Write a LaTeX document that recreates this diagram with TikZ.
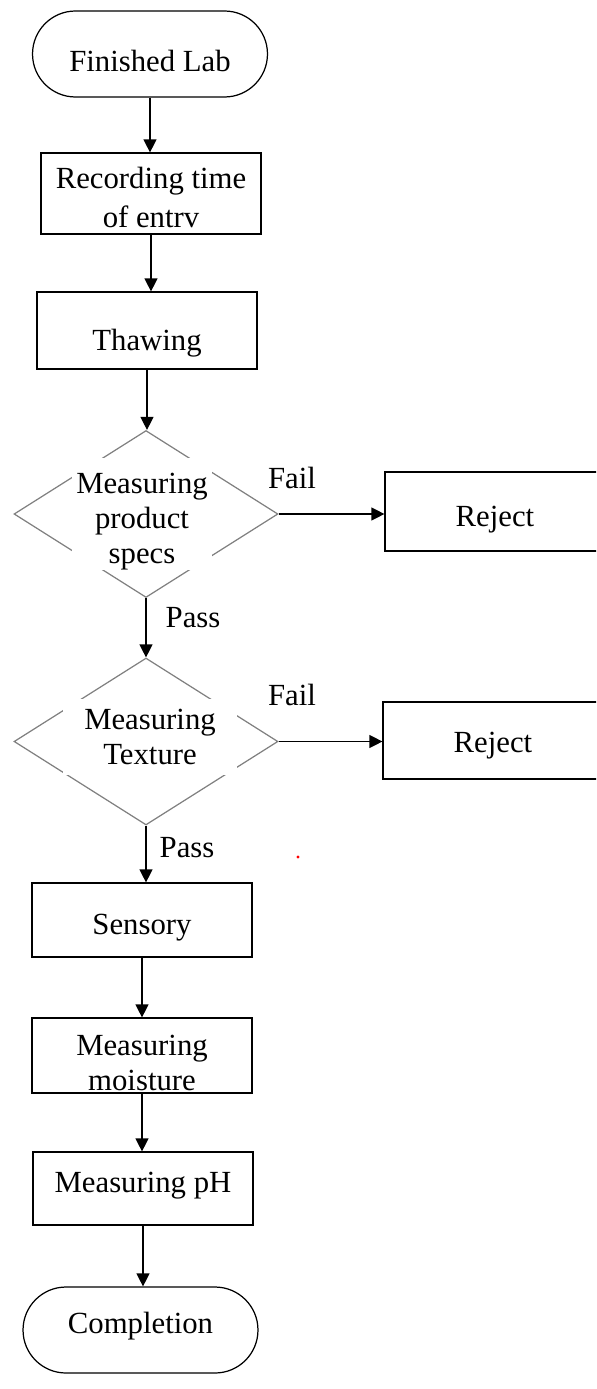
\documentclass[tikz,border=0pt]{standalone}
\usepackage{fontspec}
\setmainfont{Liberation Serif}
\usetikzlibrary{shapes.geometric,arrows.meta}
\newcommand{\lowtop}[1]{\rule{0pt}{#1}}
\begin{document}
\begin{tikzpicture}[x=0.02cm,y=-0.02cm,font=\fontsize{17.5}{20}\selectfont,
  box/.style={draw,line width=0.7pt,minimum width=4.4cm,align=center,inner sep=0pt},
  term/.style={draw,line width=0.7pt,rounded corners=0.86cm,minimum width=4.7cm,minimum height=1.72cm},
  dec/.style={draw=gray,line width=0.7pt,shape=diamond,minimum width=5.28cm,minimum height=3.34cm,inner sep=0pt},
  dectext/.style={fill=white,align=center,inner sep=0pt},
  sink/.style={execute at begin node={\rule{0pt}{#1}}},
  lift/.style={execute at end node={\rule[-#1]{0pt}{#1}}},
  arr/.style={line width=0.7pt,-{Triangle[width=0.26cm,length=0.26cm]}}]
\useasboundingbox (0,0) rectangle (596,1389);
\clip (0,0) rectangle (596,1389);
\node[term,sink=20pt] (start) at (150,54) {Finished Lab};
\node[box,minimum height=1.62cm,font=\fontsize{17.5}{22}\selectfont] (rec) at (151,193.5) {\lowtop{16.6pt}Recording time\\of entrv};
\node[box,minimum height=1.54cm,sink=27pt] (thaw) at (147,330.5) {Thawing};
\node[dec] (d1) at (146,514) {};
\node[dectext,minimum width=2.8cm,minimum height=2.24cm] (t1) at (142,514) {\lowtop{20pt}Measuring\\product\\specs};
\node[box,minimum height=1.58cm,sink=21pt] (rej1) at (495,511.5) {Reject};
\node[dec] (d2) at (146,741.5) {};
\node[dectext,minimum width=3.5cm,minimum height=1.52cm] (t2) at (150,737) {Measuring\\Texture};
\node[box,minimum height=1.54cm,sink=17.6pt] (rej2) at (493,740.5) {Reject};
\node[box,minimum height=1.48cm,sink=20pt] (sens) at (142,920) {Sensory};
\node[box,minimum height=1.5cm] (moist) at (142,1055.5) {\lowtop{20pt}Measuring\\moisture};
\node[box,minimum height=1.46cm,lift=7.2pt] (ph) at (143,1188.5) {Measuring pH};
\node[term,lift=8.4pt] (done) at (140.5,1330) {Completion};
\node (fail1) at (292,478) {Fail};
\node (fail2) at (292,695) {Fail};
\node (pass1) at (193,618) {Pass};
\node (pass2) at (187,848) {Pass};
\draw[arr] (start.south) -- (start.south |- rec.north);
\draw[arr] (rec.south) -- (rec.south |- thaw.north);
\draw[arr] (thaw.south) -- (thaw.south |- d1.north);
\draw[arr] (d1.east) -- (d1.east -| rej1.west);
\draw[arr] (d1.south) -- (d2.north);
\draw[arr] (d2.east) -- (d2.east -| rej2.west);
\draw[arr] (d2.south) -- (d2.south |- sens.north);
\draw[arr] (sens.south) -- (moist.north);
\draw[arr] (moist.south) -- (moist.south |- ph.north);
\draw[arr] (ph.south) -- (ph.south |- done.north);
\fill[red] (298,857) circle (0.9pt);
\end{tikzpicture}
\end{document}
